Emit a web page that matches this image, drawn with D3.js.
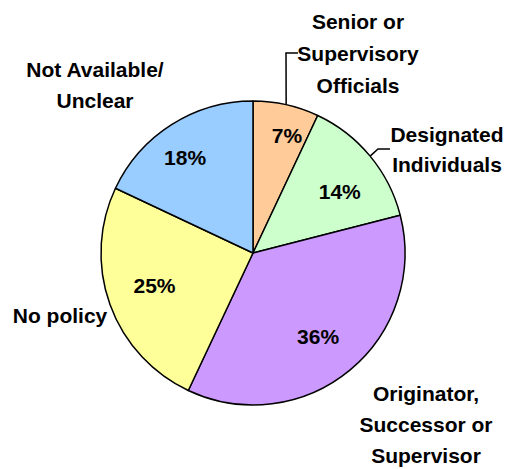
<!DOCTYPE html>
<html><head><meta charset="utf-8">
<script src="https://cdn.jsdelivr.net/npm/d3@7/dist/d3.min.js"></script>
<style>html,body{margin:0;padding:0;background:#fff;}</style>
</head><body>
<svg id="c" width="508" height="469"></svg>
<script>
const categories = ["Senior or Supervisory Officials","Designated Individuals","Originator, Successor or Supervisor","No policy","Not Available/ Unclear"];
const values = [7, 14, 36, 25, 18];
const valueLabels = ["7%","14%","36%","25%","18%"];
const colors = ["#FFCC99","#CCFFCC","#CC99FF","#FFFF99","#99CCFF"];

const svg = d3.select("#c");
const cx = 253, cy = 253, R = 152;
const font = "'Liberation Sans', Arial, sans-serif";
const g = svg.append("g").attr("transform", `translate(${cx},${cy})`);

const pie = d3.pie().sort(null).value(d => d)(values);
const arc = d3.arc().innerRadius(0).outerRadius(R);
const labelArc = d3.arc().innerRadius(110).outerRadius(110);
const edgeArc = d3.arc().innerRadius(R).outerRadius(R);

g.selectAll("path.slice").data(pie).join("path")
  .attr("class","slice")
  .attr("d", arc)
  .attr("fill", (d,i) => colors[i])
  .attr("stroke", "#000")
  .attr("stroke-width", 1.5)
  .attr("stroke-linejoin","round");

// percentage labels (small nudges mimic original placement)
const nudges = [[10,-10],[2,9],[-5,-1],[5,-5],[-9,-3]];
g.selectAll("text.pct").data(pie).join("text")
  .attr("class","pct")
  .attr("x", (d,i) => labelArc.centroid(d)[0] + nudges[i][0])
  .attr("y", (d,i) => labelArc.centroid(d)[1] + nudges[i][1])
  .attr("dy","0.36em")
  .attr("text-anchor","middle")
  .attr("font-family", font).attr("font-weight","bold").attr("font-size", 21)
  .attr("fill","#000")
  .text((d,i) => valueLabels[i]);

// leader lines
function leader(i, pts){
  const p = edgeArc.centroid(pie[i]);
  const path = d3.path();
  path.moveTo(p[0] + cx, p[1] + cy);
  pts.forEach(q => path.lineTo(q[0], q[1]));
  svg.append("path").attr("d", path.toString()).attr("fill","none")
    .attr("stroke","#000").attr("stroke-width",1.5);
}
leader(0, [[286,53],[298,53]]);
leader(1, [[378,149],[390,149]]);

// category labels
const catLines = [
  {lines:["Senior or","Supervisory","Officials"], x:358, y:[29,61,93]},
  {lines:["Designated","Individuals"], x:447, y:[142,172]},
  {lines:["Originator,","Successor or","Supervisor"], x:426, y:[401,432,463]},
  {lines:["No policy"], x:60, y:[323]},
  {lines:["Not Available/","Unclear"], x:95, y:[77,108]}
];
catLines.forEach((c,i) => {
  c.lines.forEach((t,j) => {
    svg.append("text").attr("x", c.x).attr("y", c.y[j])
      .attr("text-anchor","middle")
      .attr("font-family", font).attr("font-weight","bold").attr("font-size", 21)
      .attr("fill","#000").text(t);
  });
});
</script>
</body></html>
